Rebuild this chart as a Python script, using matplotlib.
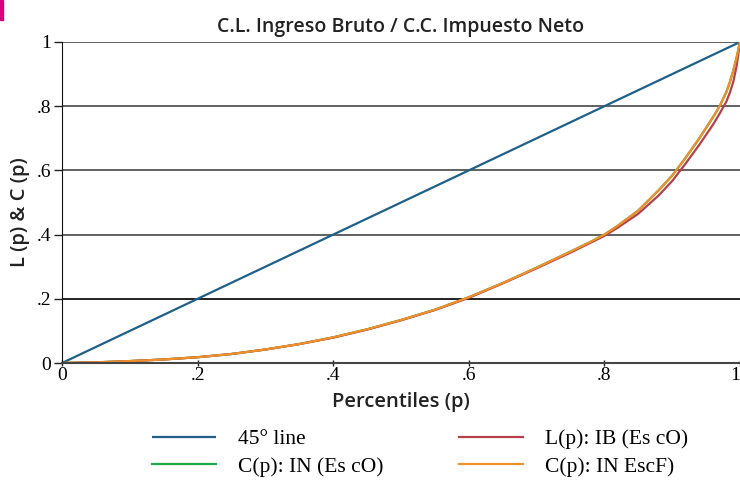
import matplotlib
matplotlib.use("Agg")
import matplotlib.pyplot as plt
from matplotlib.patches import Rectangle

# percentiles and curve values
p = [0, 0.05, 0.1, 0.15, 0.2, 0.25, 0.3, 0.35, 0.4, 0.45, 0.5, 0.55, 0.6, 0.65, 0.7,
     0.75, 0.78, 0.8, 0.82, 0.85, 0.88, 0.9, 0.92, 0.94, 0.96, 0.97, 0.98, 0.985,
     0.99, 0.995, 1.0]
lorenz_ib = [0, 0.002, 0.006, 0.011, 0.018, 0.028, 0.042, 0.059, 0.079, 0.104, 0.133, 0.165,
             0.203, 0.248, 0.295, 0.344, 0.375, 0.396, 0.422, 0.465, 0.522, 0.567, 0.622,
             0.68, 0.742, 0.777, 0.815, 0.842, 0.875, 0.925, 1.0]
conc_in = [0, 0.002, 0.006, 0.011, 0.018, 0.028, 0.042, 0.059, 0.08, 0.105, 0.134, 0.166,
           0.205, 0.249, 0.297, 0.347, 0.378, 0.40, 0.428, 0.475, 0.538, 0.584, 0.64,
           0.70, 0.765, 0.80, 0.845, 0.875, 0.91, 0.952, 1.0]
conc_escf = [0, 0.002, 0.006, 0.011, 0.018, 0.028, 0.042, 0.059, 0.08, 0.105, 0.134, 0.166,
             0.205, 0.249, 0.297, 0.347, 0.378, 0.40, 0.428, 0.475, 0.538, 0.584, 0.64,
             0.70, 0.765, 0.80, 0.845, 0.875, 0.91, 0.952, 1.0]
diag = [0, 1]

ticks = [0, 0.2, 0.4, 0.6, 0.8, 1]
ticklabels = ["0", ".2", ".4", ".6", ".8", "1"]

serif = "Liberation Serif"
sans = "Open Sans"

fig = plt.figure(figsize=(7.4, 4.82), dpi=100)
ax = fig.add_axes([62 / 740, 119 / 482, 678 / 740, 321 / 482])

l1, = ax.plot(diag, diag, color="#1f6089", lw=1.6, solid_capstyle="butt")
l3, = ax.plot(p, conc_in, color="#1aab4a", lw=1.6)
l2, = ax.plot(p, lorenz_ib, color="#b5404a", lw=1.6)
l4, = ax.plot(p, conc_escf, color="#f0902a", lw=1.6)

ax.set_xlim(0, 1)
ax.set_ylim(0, 1)
ax.set_xticks(ticks)
ax.set_yticks(ticks)
ax.set_xticklabels(ticklabels, family=serif, fontsize=14)
ax.set_yticklabels(ticklabels, family=serif, fontsize=14)
ax.get_xticklabels()[-1].set_horizontalalignment("right")
ax.tick_params(axis="y", length=6, width=1, color="#222222", pad=2)
ax.tick_params(axis="x", length=4, width=1, direction="inout", color="#222222", pad=1)

for y in ticks[1:]:
    ax.axhline(y, color="#555555" if y != 0.2 else "#111111", lw=1.3, zorder=0)

for s in ["top", "right"]:
    ax.spines[s].set_visible(False)
ax.spines["left"].set_color("#111111")
ax.spines["bottom"].set_color("#444444")
ax.spines["bottom"].set_linewidth(1.5)

ax.set_title("C.L. Ingreso Bruto / C.C. Impuesto Neto", family=sans, fontsize=14,
             weight="semibold", color="#222222", pad=7)
ax.set_xlabel("Percentiles (p)", family=sans, fontsize=14.5, weight="semibold",
              color="#222222", labelpad=6)
ax.set_ylabel("L (p) & C (p)", family=sans, fontsize=14.5, weight="semibold", color="#222222")
ax.yaxis.set_label_coords(-0.047, 0.47)

fig.legend([l1, l3, l2, l4],
           ["45° line", "C(p): IN (Es cO)", "L(p): IB (Es cO)", "C(p): IN EscF)"],
           ncol=2, loc="center", bbox_to_anchor=(420 / 740, 1 - 453 / 482),
           frameon=False, prop={"family": serif, "size": 15.5},
           handlelength=3.0, columnspacing=3.5, handletextpad=1.0, labelspacing=0.35)

fig.patches.append(Rectangle((0, 1 - 20 / 482), 3 / 740, 20 / 482,
                             transform=fig.transFigure, color="#d6007e"))

fig.savefig("out.png", dpi=100)
